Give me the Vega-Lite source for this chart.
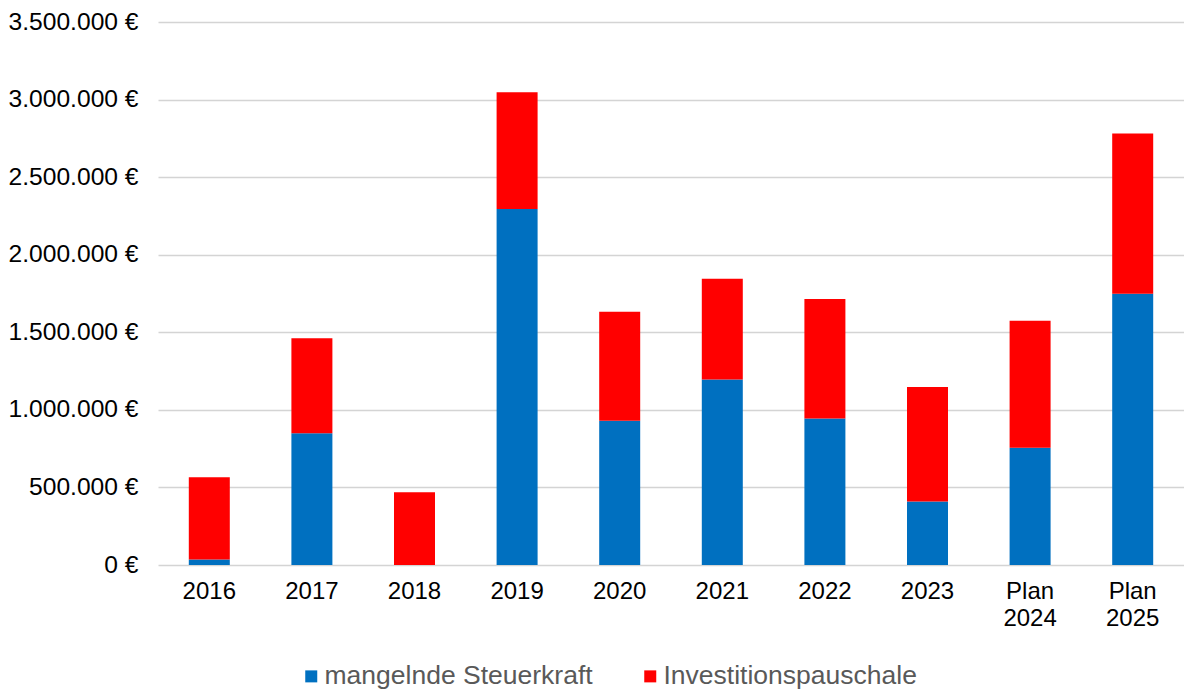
{
  "$schema": "https://vega.github.io/schema/vega-lite/v6.json",
  "width": 1026,
  "height": 543,
  "autosize": "none",
  "padding": {"left": 158, "top": 22, "right": 0, "bottom": 125},
  "background": "white",
  "config": {
    "view": {"stroke": null},
    "font": "Liberation Sans"
  },
  "data": {
    "values": [
      {"jahr": "2016", "reihe": "mangelnde Steuerkraft", "betrag": 35000},
      {"jahr": "2016", "reihe": "Investitionspauschale", "betrag": 531000},
      {"jahr": "2017", "reihe": "mangelnde Steuerkraft", "betrag": 849000},
      {"jahr": "2017", "reihe": "Investitionspauschale", "betrag": 612000},
      {"jahr": "2018", "reihe": "mangelnde Steuerkraft", "betrag": 0},
      {"jahr": "2018", "reihe": "Investitionspauschale", "betrag": 469000},
      {"jahr": "2019", "reihe": "mangelnde Steuerkraft", "betrag": 2295000},
      {"jahr": "2019", "reihe": "Investitionspauschale", "betrag": 752000},
      {"jahr": "2020", "reihe": "mangelnde Steuerkraft", "betrag": 930000},
      {"jahr": "2020", "reihe": "Investitionspauschale", "betrag": 702000},
      {"jahr": "2021", "reihe": "mangelnde Steuerkraft", "betrag": 1195000},
      {"jahr": "2021", "reihe": "Investitionspauschale", "betrag": 650000},
      {"jahr": "2022", "reihe": "mangelnde Steuerkraft", "betrag": 945000},
      {"jahr": "2022", "reihe": "Investitionspauschale", "betrag": 769000},
      {"jahr": "2023", "reihe": "mangelnde Steuerkraft", "betrag": 410000},
      {"jahr": "2023", "reihe": "Investitionspauschale", "betrag": 737000},
      {"jahr": "Plan 2024", "reihe": "mangelnde Steuerkraft", "betrag": 756000},
      {"jahr": "Plan 2024", "reihe": "Investitionspauschale", "betrag": 818000},
      {"jahr": "Plan 2025", "reihe": "mangelnde Steuerkraft", "betrag": 1748000},
      {"jahr": "Plan 2025", "reihe": "Investitionspauschale", "betrag": 1034000}
    ]
  },
  "transform": [
    {"calculate": "datum.reihe === 'mangelnde Steuerkraft' ? 0 : 1", "as": "stapel"}
  ],
  "mark": {"type": "bar", "width": 41},
  "encoding": {
    "x": {
      "field": "jahr",
      "type": "nominal",
      "sort": null,
      "title": null,
      "scale": {"paddingInner": 0.6, "paddingOuter": 0.3},
      "axis": {
        "labelExpr": "split(datum.label, ' ')",
        "labelAngle": 0,
        "labelFontSize": 24,
        "labelColor": "#000000",
        "labelPadding": 14,
        "labelLineHeight": 27.6,
        "ticks": false,
        "domain": false,
        "grid": false
      }
    },
    "y": {
      "field": "betrag",
      "type": "quantitative",
      "stack": "zero",
      "title": null,
      "scale": {"domain": [0, 3500000], "nice": false},
      "axis": {
        "values": [0, 500000, 1000000, 1500000, 2000000, 2500000, 3000000, 3500000],
        "labelExpr": "join(split(format(datum.value, ',d'), ','), '.') + ' €'",
        "labelFontSize": 24.6,
        "labelColor": "#000000",
        "labelPadding": 20,
        "ticks": false,
        "domain": false,
        "gridColor": "#D4D4D4",
        "gridWidth": 1.4
      }
    },
    "color": {
      "field": "reihe",
      "type": "nominal",
      "scale": {
        "domain": ["mangelnde Steuerkraft", "Investitionspauschale"],
        "range": ["#0070C0", "#FF0000"]
      },
      "legend": {
        "title": null,
        "orient": "none",
        "direction": "horizontal",
        "legendX": 140,
        "legendY": 641,
        "symbolType": "square",
        "symbolSize": 144,
        "symbolStrokeWidth": 0,
        "labelFontSize": 26.5,
        "labelColor": "#595959",
        "labelOffset": 0,
        "labelLimit": 500,
        "columnPadding": 44
      }
    },
    "order": {"field": "stapel", "type": "quantitative"}
  }
}
